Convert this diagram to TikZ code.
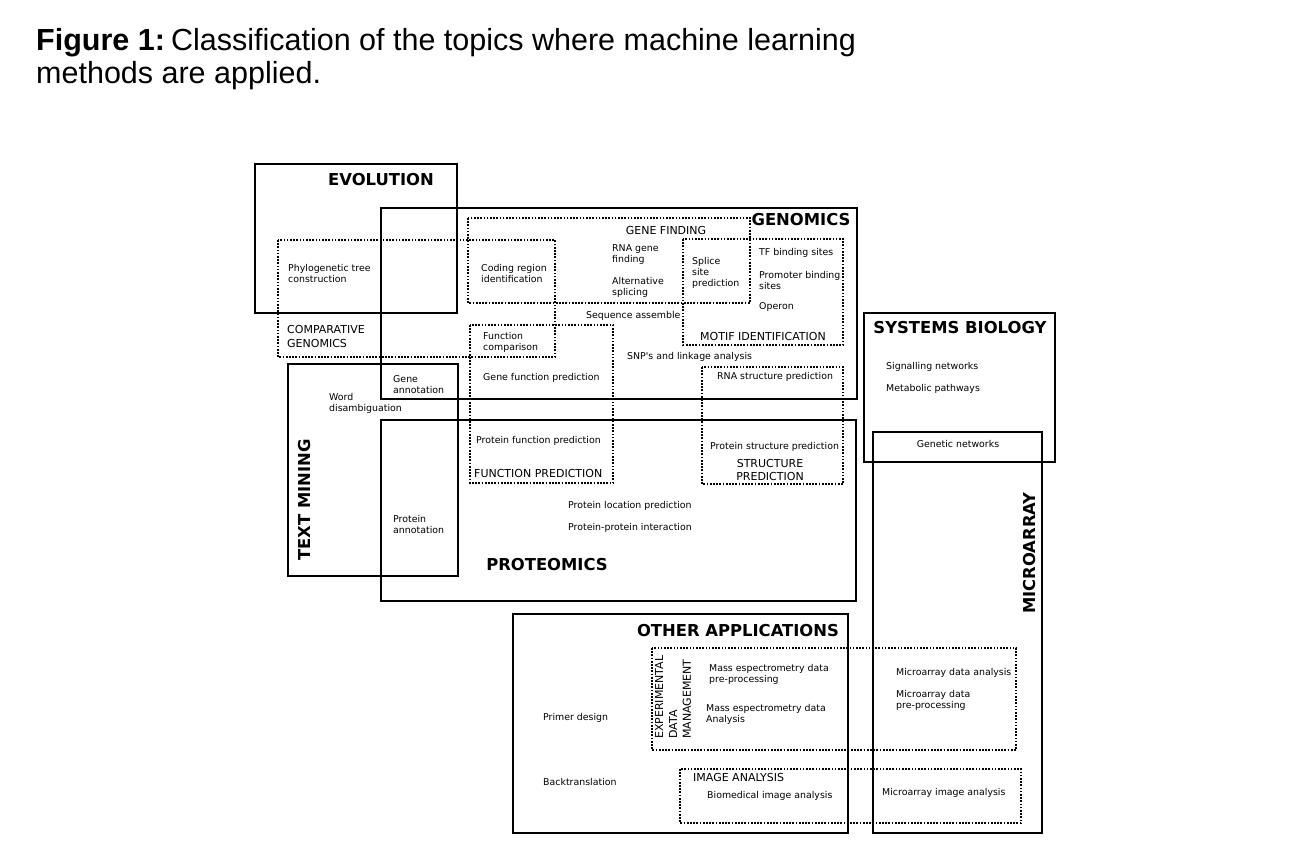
\documentclass[tikz,border=0pt]{standalone}
\usepackage{fontspec}
\setmainfont{Liberation Sans}
\newfontfamily\dvsans{DejaVu Sans}
\begin{document}
\begin{tikzpicture}[x=1pt,y=-1pt,
  areabox/.style={draw=black,line width=2.9pt},
  subarea/.style={draw=black,line width=1.7pt,dash pattern=on 1.7pt off 1.5pt},
  item/.style={font=\dvsans\fontsize{9.4}{11}\selectfont,inner sep=0pt,align=left,anchor=west},
  sublabel/.style={font=\dvsans\fontsize{11}{13.8}\selectfont,inner sep=0pt,align=left},
  arealabel/.style={font=\dvsans\bfseries\fontsize{16.4}{18}\selectfont,inner sep=0pt}]
\useasboundingbox (0,0) rectangle (1292,858);

% caption
\node[anchor=base west,inner sep=0pt,font=\fontsize{30.5}{32}\selectfont] (cap1) at (36,51)
  {\textbf{Figure 1:}\hspace{0.2em}Classification of the topics where machine learning};
\node[anchor=base west,inner sep=0pt,font=\fontsize{30.5}{32}\selectfont] (cap2) at (36,84)
  {methods are applied.};

% main areas
\draw[areabox] (255,164) rectangle (457,313);
\draw[areabox] (381,208) rectangle (857,399);
\draw[areabox] (381,420) rectangle (856,601);
\draw[areabox] (288,364) rectangle (458,576);
\draw[areabox] (864,313) rectangle (1055,462);
\draw[areabox] (873,432) rectangle (1042,833);
\draw[areabox] (513,614) rectangle (848,833);

% sub-areas
\draw[subarea] (278,240) rectangle (555,357);
\draw[subarea] (468,218) rectangle (750,303);
\draw[subarea] (683,239) rectangle (843,345);
\draw[subarea] (470,325) rectangle (613,483);
\draw[subarea] (702,367) rectangle (843,484);
\draw[subarea] (652,648) rectangle (1016,750);
\draw[subarea] (680,769) rectangle (1021,823);

% area titles
\node[arealabel] (evo) at (381,180) {EVOLUTION};
\node[arealabel] (gen) at (801,220) {GENOMICS};
\node[arealabel] (prot) at (547,565) {PROTEOMICS};
\node[arealabel,rotate=90] (tm) at (305,500) {TEXT MINING};
\node[arealabel] (sysbio) at (960,328) {SYSTEMS BIOLOGY};
\node[arealabel,rotate=90] (micro) at (1030,553) {MICROARRAY};
\node[arealabel] (other) at (738,631) {OTHER APPLICATIONS};

% sub-area titles
\node[sublabel,anchor=west] (cg) at (287,336.5) {COMPARATIVE\\GENOMICS};
\node[sublabel] (gf) at (666,230) {GENE FINDING};
\node[sublabel] (mi) at (763,336) {MOTIF IDENTIFICATION};
\node[sublabel,anchor=west] (fp) at (474,473) {FUNCTION PREDICTION};
\node[sublabel,align=center] (sp) at (770,470) {STRUCTURE\\PREDICTION};
\node[sublabel,rotate=90,anchor=north west] (edm) at (655,739) {EXPERIMENTAL\\DATA\\MANAGEMENT};
\node[sublabel,anchor=west] (ia) at (693,777) {IMAGE ANALYSIS};

% topics
\node[item] (phylo) at (288,273.5) {Phylogenetic tree\\construction};
\node[item] (coding) at (481,273.5) {Coding region\\identification};
\node[item] (fcomp) at (483,342.5) {Function\\comparison};
\node[item] (rnagene) at (612,254.5) {RNA gene\\finding};
\node[item] (altspl) at (612,287.5) {Alternative\\splicing};
\node[item] (splice) at (692,273) {Splice\\site\\prediction};
\node[item] (tfbs) at (759,253) {TF binding sites};
\node[item] (promo) at (759,280.5) {Promoter binding\\sites};
\node[item] (operon) at (759,307) {Operon};
\node[item] (seqas) at (586,316) {Sequence assemble};
\node[item] (snp) at (627,357) {SNP's and linkage analysis};
\node[item] (rnastr) at (717,377) {RNA structure prediction};
\node[item] (geneann) at (393,384.5) {Gene\\annotation};
\node[item] (genefun) at (483,378) {Gene function prediction};
\node[item] (word) at (329,403.5) {Word\\disambiguation};
\node[item] (protfun) at (476,441) {Protein function prediction};
\node[item] (protstr) at (710,447) {Protein structure prediction};
\node[item] (protloc) at (568,506) {Protein location prediction};
\node[item] (ppi) at (568,528) {Protein-protein interaction};
\node[item] (protann) at (393,524.5) {Protein\\annotation};
\node[item] (signal) at (886,367) {Signalling networks};
\node[item] (metab) at (886,389) {Metabolic pathways};
\node[item,anchor=center] (genet) at (958,444) {Genetic networks};
\node[item] (msprep) at (709,674.5) {Mass espectrometry data\\pre-processing};
\node[item] (msan) at (706,714.5) {Mass espectrometry data\\Analysis};
\node[item] (primer) at (543,718) {Primer design};
\node[item] (backtr) at (543,782) {Backtranslation};
\node[item] (bioimg) at (707,796) {Biomedical image analysis};
\node[item] (madata) at (896,673) {Microarray data analysis};
\node[item] (maprep) at (896,700.5) {Microarray data\\pre-processing};
\node[item] (maimg) at (882,793) {Microarray image analysis};
\end{tikzpicture}
\end{document}
